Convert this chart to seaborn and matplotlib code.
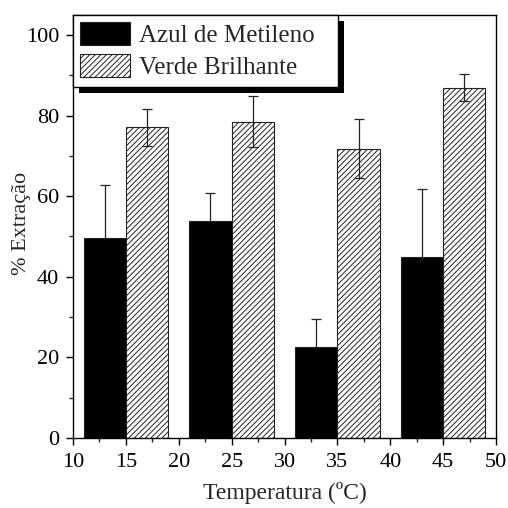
import matplotlib
matplotlib.use("Agg")
import matplotlib.pyplot as plt
from matplotlib.patches import Rectangle
from matplotlib.transforms import IdentityTransform
from matplotlib.ticker import MultipleLocator
import seaborn as sns
import pandas as pd

# Extraction (%) by temperature for the two dyes, with standard deviations
temperatures = [15, 25, 35, 45]
azul_mean = [49.5, 53.8, 22.5, 44.9]
azul_sd = [13.2, 7.0, 7.1, 16.8]
verde_mean = [77.1, 78.5, 71.8, 86.9]
verde_sd = [4.6, 6.4, 7.4, 3.3]
series_names = ["Azul de Metileno", "Verde Brilhante"]

df = pd.DataFrame({
    "Temperatura": temperatures * 2,
    "Extracao": azul_mean + verde_mean,
    "Corante": [series_names[0]] * 4 + [series_names[1]] * 4,
})

sns.set_style("ticks")
plt.rcParams["font.family"] = ["Liberation Serif", "DejaVu Serif"]
plt.rcParams["hatch.linewidth"] = 0.7
plt.rcParams["hatch.color"] = "black"

fig = plt.figure(figsize=(5.08, 5.08), dpi=100)
ax = fig.add_axes([0.1437, 0.1378, 0.8327, 0.8332])

sns.barplot(data=df, x="Temperatura", y="Extracao", hue="Corante",
            hue_order=series_names, native_scale=True, width=0.8,
            palette=["black", "white"], errorbar=None, legend=False,
            edgecolor="#222222", linewidth=0.8, ax=ax)

# hatch the second series; error bars sit behind the solid bars
# and in front of the hatched ones
for bar in ax.containers[1]:
    bar.set_hatch("//////")
    bar.set_facecolor("white")
for cont, sds, z in zip(ax.containers, [azul_sd, verde_sd], [0.5, 4]):
    for bar, sd in zip(cont, sds):
        xc = bar.get_x() + bar.get_width() / 2
        ax.errorbar(xc, bar.get_height(), yerr=sd, fmt="none",
                    ecolor="#222222", elinewidth=0.9, capsize=3.4,
                    capthick=0.9, zorder=z)

ax.set_xlim(10, 50)
ax.set_ylim(0, 105)
ax.xaxis.set_major_locator(MultipleLocator(5))
ax.xaxis.set_minor_locator(MultipleLocator(2.5))
ax.yaxis.set_major_locator(MultipleLocator(20))
ax.yaxis.set_minor_locator(MultipleLocator(10))
ax.tick_params(which="major", direction="out", length=5, width=1,
               labelsize=16, colors="black")
ax.tick_params(axis="x", which="major", pad=6)
ax.tick_params(axis="y", which="major", pad=5)
ax.tick_params(which="minor", direction="out", length=3, width=1)
for sp in ax.spines.values():
    sp.set_visible(True)
    sp.set_linewidth(1.0)
    sp.set_color("black")

ax.set_xlabel("Temperatura (ºC)", fontsize=17)
ax.set_ylabel("% Extração", fontsize=16)
ax.xaxis.set_label_coords(0.5, -0.105)
ax.yaxis.set_label_coords(-0.099, 0.506)

handles = [ax.containers[0][0], ax.containers[1][0]]
leg = ax.legend(handles, series_names, loc="upper left",
                bbox_to_anchor=(0, 1, 0.6265, 0), mode="expand",
                fontsize=18, frameon=True, fancybox=False, framealpha=1,
                edgecolor="black", borderaxespad=0, borderpad=0.3,
                handlelength=2.0, handleheight=1.0, handletextpad=0.35,
                labelspacing=0.3)
leg.get_frame().set_linewidth(1.0)

# solid drop shadow behind the legend box
fig.canvas.draw()
bb = leg.get_window_extent()
shadow = Rectangle((bb.x0 + 6, bb.y0 - 6), bb.width, bb.height,
                   transform=IdentityTransform(), facecolor="black",
                   edgecolor="none", zorder=4.9, clip_on=False)
ax.add_artist(shadow)

fig.savefig("out.png", dpi=100)
